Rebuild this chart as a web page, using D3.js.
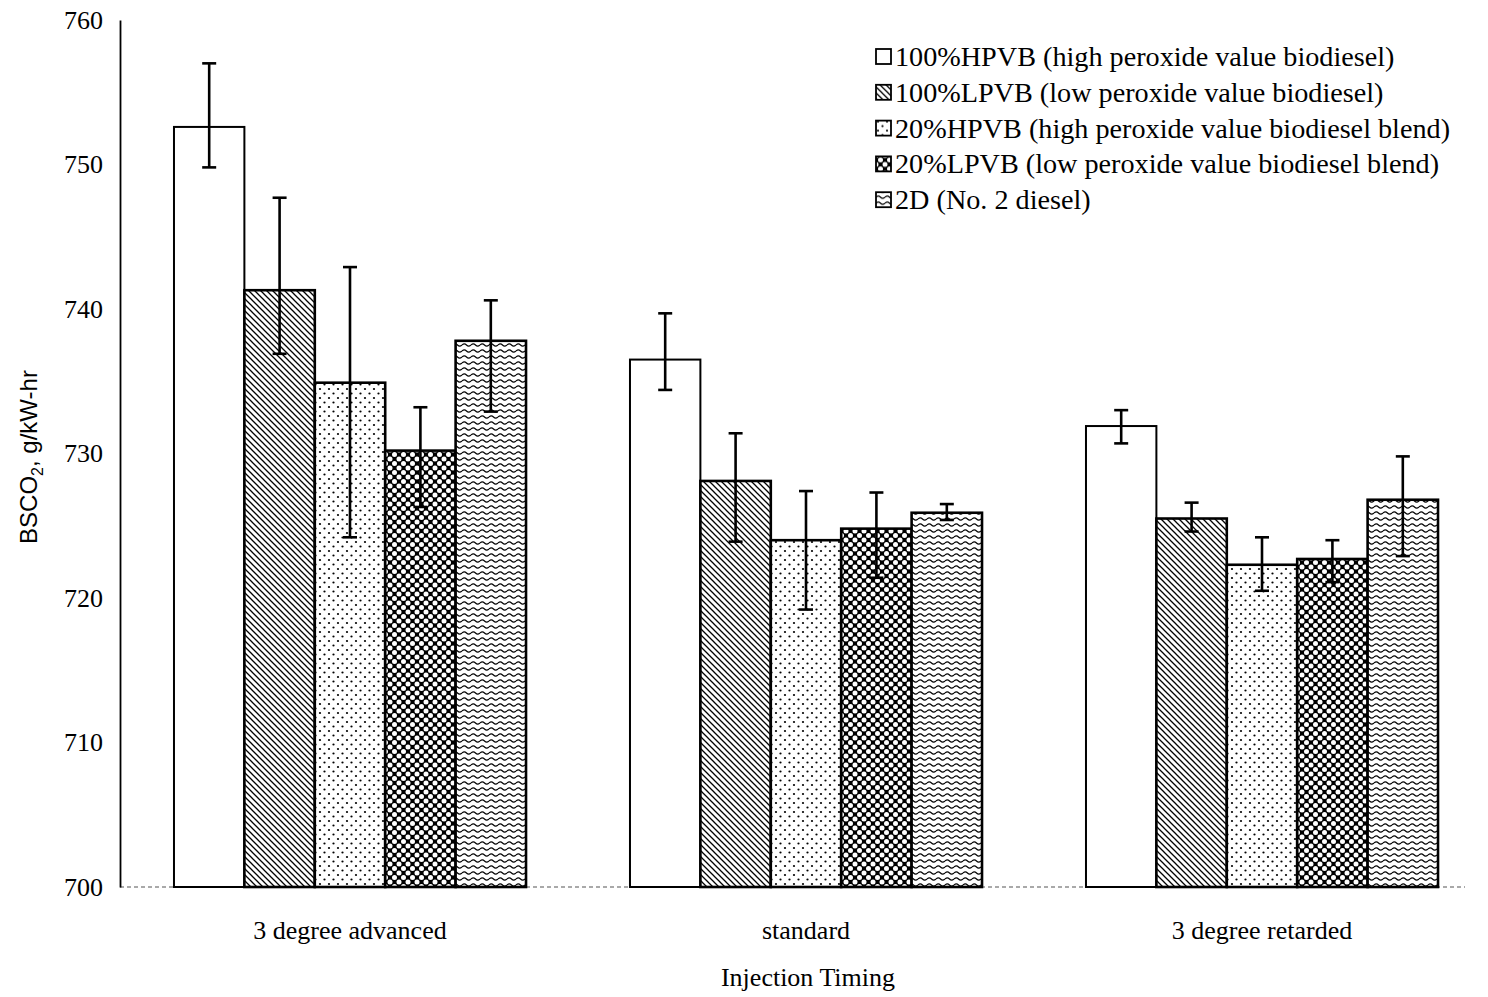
<!DOCTYPE html>
<html><head><meta charset="utf-8">
<script src="https://cdn.jsdelivr.net/npm/d3@7"></script>
<style>body{margin:0;background:#fff}svg{display:block}</style>
</head><body>
<svg id="c" width="1488" height="997"></svg>
<script>
const categories = ["3 degree advanced", "standard", "3 degree retarded"];
const seriesNames = [
  "100%HPVB (high peroxide value biodiesel)",
  "100%LPVB (low peroxide value biodiesel)",
  "20%HPVB (high peroxide value biodiesel blend)",
  "20%LPVB (low peroxide value biodiesel blend)",
  "2D (No. 2 diesel)"
];
// values per series, one per category
const hpvb100 = [752.6, 736.5, 731.9];
const lpvb100 = [741.3, 728.1, 725.5];
const hpvb20  = [734.9, 724.0, 722.3];
const lpvb20  = [730.2, 724.8, 722.7];
const d2      = [737.8, 725.9, 726.8];
// error bar tops and bottoms
const errHigh = [[757.0, 739.7, 733.0],[747.7, 731.4, 726.6],[742.9, 727.4, 724.2],[733.2, 727.3, 724.0],[740.6, 726.5, 729.8]];
const errLow  = [[749.8, 734.4, 730.7],[736.9, 723.9, 724.6],[724.2, 719.2, 720.5],[726.3, 721.4, 721.1],[732.9, 725.4, 722.9]];
const yTicks = [700, 710, 720, 730, 740, 750, 760];

const values = [hpvb100, lpvb100, hpvb20, lpvb20, d2];
const svg = d3.select("#c");
const defs = svg.append("defs");
const patIds = ["none","pHatch","pDots","pCheck","pWave"];

// patterns
let p = defs.append("pattern").attr("id","pHatch").attr("patternUnits","userSpaceOnUse").attr("width",6).attr("height",6);
p.append("rect").attr("width",6).attr("height",6).attr("fill","#fff");
p.append("path").attr("d","M0,0 L6,6 M-1,5 L1,7 M5,-1 L7,1").attr("stroke","#000").attr("stroke-width",1.3);

p = defs.append("pattern").attr("id","pDots").attr("patternUnits","userSpaceOnUse").attr("width",9).attr("height",9);
p.append("rect").attr("width",9).attr("height",9).attr("fill","#fff");
p.append("circle").attr("cx",2).attr("cy",2).attr("r",1.1).attr("fill","#000");
p.append("circle").attr("cx",6.5).attr("cy",6.5).attr("r",1.1).attr("fill","#000");

p = defs.append("pattern").attr("id","pCheck").attr("patternUnits","userSpaceOnUse").attr("width",9).attr("height",9);
p.append("rect").attr("width",9).attr("height",9).attr("fill","#000");
[[0,0],[9,0],[0,9],[9,9],[4.5,4.5]].forEach(([x,y])=>p.append("circle").attr("cx",x).attr("cy",y).attr("r",2.5).attr("fill","#fff"));

p = defs.append("pattern").attr("id","pWave").attr("patternUnits","userSpaceOnUse").attr("width",9).attr("height",6);
p.append("rect").attr("width",9).attr("height",6).attr("fill","#fff");
p.append("path").attr("d","M0,3 Q2.25,0.8 4.5,3 T9,3").attr("stroke","#000").attr("stroke-width",1.2).attr("fill","none");

const fillFor = i => i === 0 ? "#fff" : `url(#${patIds[i]})`;

const x0 = d3.scaleBand().domain(categories).range([122, 1490]).paddingInner(0.228).paddingOuter(0.114);
const x1 = d3.scaleBand().domain(d3.range(seriesNames.length)).range([0, x0.bandwidth()]);
const y = d3.scaleLinear().domain([700, 760]).range([887, 20]);

const serif = "'Liberation Serif', 'Times New Roman', serif";

// baseline
svg.append("line").attr("x1",120).attr("x2",1465).attr("y1",y(700)).attr("y2",y(700))
  .attr("stroke","#555").attr("stroke-width",1.2).attr("stroke-dasharray","4,3");

// y axis
const yAxis = d3.axisLeft(y).tickValues(yTicks).tickSize(0).tickPadding(17).tickFormat(d3.format("d"));
const ga = svg.append("g").attr("transform","translate(120,0)").call(yAxis);
ga.select(".domain").attr("stroke","#000").attr("stroke-width",1.8);
ga.selectAll("text").attr("font-family",serif).attr("font-size",26).attr("fill","#000");

// bars
const groups = svg.append("g").selectAll("g").data(categories).join("g")
  .attr("transform", d => `translate(${x0(d)},0)`);
groups.each(function(cat, ci){
  const g = d3.select(this);
  const data = values.map((s, si) => ({si, v: s[ci], hi: errHigh[si][ci], lo: errLow[si][ci]}));
  g.selectAll("rect").data(data).join("rect")
    .attr("x", d => x1(d.si)).attr("width", x1.bandwidth())
    .attr("y", d => y(d.v)).attr("height", d => y(700) - y(d.v))
    .attr("fill", d => fillFor(d.si)).attr("stroke","#000")
    .attr("stroke-width", d => d.si === 0 ? 2 : 2.6);
  const eb = g.selectAll("g.eb").data(data).join("g").attr("class","eb");
  eb.append("line").attr("x1", d => x1(d.si)+x1.bandwidth()/2).attr("x2", d => x1(d.si)+x1.bandwidth()/2)
    .attr("y1", d => y(d.hi)).attr("y2", d => y(d.lo)).attr("stroke","#000").attr("stroke-width",2.6);
  ["hi","lo"].forEach(k => {
    eb.append("line").attr("x1", d => x1(d.si)+x1.bandwidth()/2-7).attr("x2", d => x1(d.si)+x1.bandwidth()/2+7)
      .attr("y1", d => y(d[k])).attr("y2", d => y(d[k])).attr("stroke","#000").attr("stroke-width",2.6);
  });
});

// x category labels
svg.append("g").selectAll("text").data(categories).join("text")
  .attr("x", d => x0(d) + x0.bandwidth()/2).attr("y", 939)
  .attr("text-anchor","middle").attr("font-family",serif).attr("font-size",26).attr("fill","#000")
  .text(d => d);

// x title
svg.append("text").attr("x",808).attr("y",986).attr("text-anchor","middle")
  .attr("font-family",serif).attr("font-size",26).attr("fill","#000").text("Injection Timing");

// y title
const yt = svg.append("text").attr("transform","translate(37,457) rotate(-90)").attr("text-anchor","middle")
  .attr("font-family","'Liberation Sans', Arial, sans-serif").attr("font-size",24).attr("fill","#000");
yt.append("tspan").text("BSCO");
yt.append("tspan").attr("font-size",16).attr("dy",6).text("2");
yt.append("tspan").attr("dy",-6).text(", g/kW-hr");

// legend
const lg = svg.append("g").attr("transform","translate(876,57)");
const li = lg.selectAll("g").data(seriesNames).join("g").attr("transform",(d,i)=>`translate(0,${i*35.8})`);
li.append("rect").attr("x",0).attr("y",-8).attr("width",15).attr("height",15)
  .attr("fill",(d,i)=>fillFor(i)).attr("stroke","#000").attr("stroke-width",1.8);
li.append("text").attr("x",19).attr("y",9).attr("font-family",serif).attr("font-size",28.2).attr("fill","#000")
  .text(d=>d);
</script>
</body></html>
